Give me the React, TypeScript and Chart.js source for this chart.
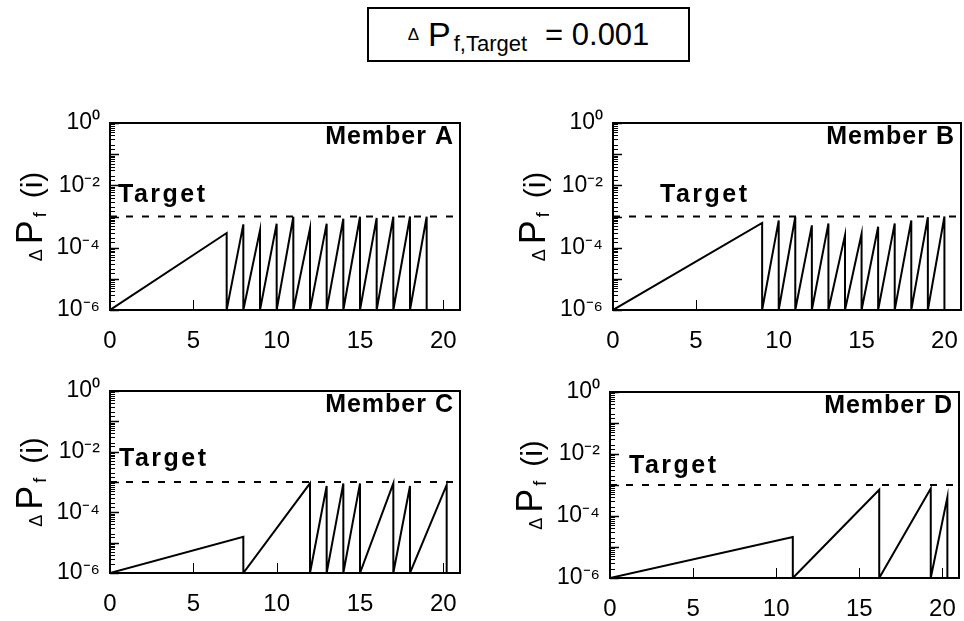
import React, { useEffect, useRef } from "react";
import { Chart, registerables } from "chart.js";

Chart.register(...registerables);

// ---- data ----
const FLOOR = 1e-6; // each tooth restarts at 10^-6
const TARGET = 1e-3; // ΔPf,Target
const X_MIN = 0;
const X_MAX = 21;
const X_TICKS = [0, 5, 10, 15, 20];
const Y_MIN = 1e-6;
const Y_MAX = 1;
const Y_LABEL_VALUES = [1, 1e-2, 1e-4, 1e-6];
const Y_LABEL_TEXT = ["10⁰", "10⁻²", "10⁻⁴", "10⁻⁶"];

// inspection (reset) times and the ΔPf reached just before each reset
const resetsA = [7, 8, 9, 10, 11, 12, 13, 14, 15, 16, 17, 18, 19];
const peaksA = [2.95e-4, 5.6e-4, 3.6e-4, 5.9e-4, 9.8e-4, 4.1e-4, 5.9e-4, 8.5e-4, 9.8e-4, 9.0e-4, 9.8e-4, 1.0e-3, 9.8e-4];

const resetsB = [9, 10, 11, 12, 13, 14, 15, 16, 17, 18, 19, 20];
const peaksB = [6.2e-4, 7.5e-4, 9.8e-4, 5.2e-4, 6.0e-4, 2.5e-4, 2.8e-4, 4.7e-4, 6.0e-4, 7.5e-4, 9.5e-4, 1.0e-3];

const resetsC = [8, 12, 13, 14, 15, 17, 18, 20.2];
const peaksC = [1.55e-5, 9.0e-4, 7.4e-4, 9.0e-4, 9.0e-4, 9.0e-4, 7.4e-4, 8.0e-4];

const resetsD = [11, 16.2, 19.3, 20.3];
const peaksD = [2.1e-5, 7.0e-4, 7.7e-4, 4.0e-4];

const members = ["Member A", "Member B", "Member C", "Member D"];

const FONT = '"Liberation Sans", Arial, Helvetica, sans-serif';

function sawtooth(resets: number[], peaks: number[]) {
  const pts: { x: number; y: number }[] = [{ x: X_MIN, y: FLOOR }];
  resets.forEach((t, i) => {
    pts.push({ x: t, y: peaks[i] });
    pts.push({ x: t, y: FLOOR });
  });
  return pts;
}

const panelDecor = {
  id: "panelDecor",
  afterDraw(chart: any, _args: any, opts: any) {
    const { ctx, chartArea: a, scales } = chart;
    const xs = scales.x;
    const ys = scales.y;
    ctx.save();
    ctx.strokeStyle = "#000";
    ctx.fillStyle = "#000";
    // y ticks, drawn inward
    ys.ticks.forEach((t: any) => {
      const e = Math.log10(t.value);
      const major = Math.abs(e - Math.round(e)) < 1e-6;
      const y = Math.round(ys.getPixelForValue(t.value)) + 0.5;
      ctx.lineWidth = major ? 1.5 : 1;
      ctx.beginPath();
      ctx.moveTo(a.left, y);
      ctx.lineTo(a.left + (major ? 9 : 5), y);
      ctx.stroke();
    });
    // x ticks, drawn inward
    X_TICKS.forEach((v) => {
      if (v === X_MIN) return;
      const x = Math.round(xs.getPixelForValue(v)) + 0.5;
      ctx.lineWidth = 1;
      ctx.beginPath();
      ctx.moveTo(x, a.bottom);
      ctx.lineTo(x, a.bottom - 10);
      ctx.stroke();
    });
    // frame
    ctx.lineWidth = 2;
    ctx.strokeRect(a.left, a.top, a.right - a.left, a.bottom - a.top);

    // member label
    ctx.font = `bold 25px ${FONT}`;
    (ctx as any).letterSpacing = "1px";
    ctx.textAlign = "right";
    ctx.textBaseline = "top";
    ctx.fillText(opts.member, a.right - 6, a.top + 2);

    // target label
    ctx.font = `bold 25px ${FONT}`;
    (ctx as any).letterSpacing = "2.5px";
    ctx.textAlign = "left";
    ctx.textBaseline = "middle";
    ctx.fillText("Target", a.left + opts.targetDx, ys.getPixelForValue(opts.targetY));
    (ctx as any).letterSpacing = "0px";

    // y axis title: ΔPf (i)
    const parts = [
      { t: "Δ", size: 18, dy: 0, gap: 0 },
      { t: "P", size: 36, dy: 0, gap: 5 },
      { t: "f", size: 18, dy: 4, gap: 3 },
      { t: "(i)", size: 30, dy: 0, gap: 14 },
    ];
    let total = 0;
    const widths = parts.map((p) => {
      ctx.font = `${p.size}px ${FONT}`;
      const w = ctx.measureText(p.t).width;
      total += w + p.gap;
      return w;
    });
    ctx.translate(a.left - opts.titleOffset, (a.top + a.bottom) / 2);
    ctx.rotate(-Math.PI / 2);
    ctx.textAlign = "left";
    ctx.textBaseline = "alphabetic";
    let cx = -total / 2;
    parts.forEach((p, i) => {
      cx += p.gap;
      ctx.font = `${p.size}px ${FONT}`;
      ctx.fillText(p.t, cx, p.dy);
      cx += widths[i];
    });
    ctx.restore();
  },
};

type PanelProps = {
  resets: number[];
  peaks: number[];
  member: string;
  left: number;
  top: number;
  width: number;
  height: number;
  targetDx: number;
  targetY: number;
};

const Y_AXIS_W = 110;
const X_AXIS_H = 50;
const PAD_TOP = 20;
const PAD_RIGHT = 4;

function Panel(p: PanelProps) {
  const ref = useRef<HTMLCanvasElement>(null);
  useEffect(() => {
    if (!ref.current) return;
    const chart = new Chart(ref.current, {
      type: "line",
      data: {
        datasets: [
          {
            data: sawtooth(p.resets, p.peaks),
            borderColor: "#000",
            borderWidth: 2,
            pointRadius: 0,
            tension: 0,
            fill: false,
          },
          {
            data: [
              { x: X_MIN, y: TARGET },
              { x: X_MAX, y: TARGET },
            ],
            borderColor: "#000",
            borderWidth: 2,
            borderDash: [7, 9],
            pointRadius: 0,
            fill: false,
          },
        ],
      },
      options: {
        animation: false,
        responsive: false,
        maintainAspectRatio: false,
        devicePixelRatio: 1,
        layout: { padding: { top: PAD_TOP, right: PAD_RIGHT, left: 0, bottom: 0 } },
        plugins: {
          legend: { display: false },
          tooltip: { enabled: false },
          panelDecor: { member: p.member, targetDx: p.targetDx, targetY: p.targetY, titleOffset: 68 },
        } as any,
        scales: {
          x: {
            type: "linear",
            min: X_MIN,
            max: X_MAX,
            afterFit: (s: any) => {
              s.height = X_AXIS_H;
            },
            grid: {
              display: true,
              drawOnChartArea: false,
              drawTicks: true,
              tickLength: 15,
              tickColor: "rgba(0,0,0,0)",
              color: "rgba(0,0,0,0)",
            },
            border: { display: false },
            ticks: {
              stepSize: 5,
              includeBounds: false,
              autoSkip: false,
              maxRotation: 0,
              padding: 2,
              color: "#000",
              font: { family: FONT, size: 24 },
              callback: (v: any) => (X_TICKS.includes(Number(v)) ? String(v) : ""),
            },
          },
          y: {
            type: "logarithmic",
            min: Y_MIN,
            max: Y_MAX,
            afterFit: (s: any) => {
              s.width = Y_AXIS_W;
            },
            grid: {
              display: true,
              drawOnChartArea: false,
              drawTicks: true,
              tickLength: 8,
              tickColor: "rgba(0,0,0,0)",
              color: "rgba(0,0,0,0)",
            },
            border: { display: false },
            ticks: {
              autoSkip: false,
              padding: 2,
              color: "#000",
              font: { family: FONT, size: 23 },
              callback: (v: any) => {
                const idx = Y_LABEL_VALUES.findIndex((y) => Math.abs(Math.log10(Number(v)) - Math.log10(y)) < 1e-6);
                return idx >= 0 ? Y_LABEL_TEXT[idx] : "";
              },
            },
          },
        },
      },
      plugins: [panelDecor as any],
    });
    return () => chart.destroy();
  }, []);
  return (
    <canvas
      ref={ref}
      width={p.width}
      height={p.height}
      style={{ position: "absolute", left: p.left, top: p.top, width: p.width, height: p.height }}
    />
  );
}

// chart-area rectangles (left, top, right, bottom) of the four panels
function place(l: number, t: number, r: number, b: number) {
  const left = l - Y_AXIS_W;
  const top = t - PAD_TOP;
  return { left, top, width: r - left + PAD_RIGHT, height: b - top + X_AXIS_H };
}

export default function App() {
  const pA = place(110, 123, 460, 310);
  const pB = place(613, 123, 961, 310);
  const pC = place(110, 391, 460, 573);
  const pD = place(610, 392, 959, 578);
  return (
    <div style={{ position: "fixed", left: 0, top: 0, width: 964, height: 621, background: "#fff", overflow: "hidden" }}>
      <div
        style={{
          position: "absolute",
          left: 367,
          top: 7,
          width: 323,
          height: 55,
          boxSizing: "border-box",
          border: "2px solid #000",
          display: "flex",
          alignItems: "center",
          justifyContent: "center",
          fontFamily: FONT,
          color: "#000",
          whiteSpace: "nowrap",
        }}
      >
        <span style={{ fontSize: 17, marginRight: 9 }}>Δ</span>
        <span style={{ fontSize: 34 }}>P</span>
        <span style={{ fontSize: 22, position: "relative", top: 9, marginLeft: 3 }}>f,Target</span>
        <span style={{ fontSize: 31, marginLeft: 18 }}>= 0.001</span>
      </div>
      <Panel resets={resetsA} peaks={peaksA} member={members[0]} {...pA} targetDx={8} targetY={5e-3} />
      <Panel resets={resetsB} peaks={peaksB} member={members[1]} {...pB} targetDx={47} targetY={5e-3} />
      <Panel resets={resetsC} peaks={peaksC} member={members[2]} {...pC} targetDx={9} targetY={5.5e-3} />
      <Panel resets={resetsD} peaks={peaksD} member={members[3]} {...pD} targetDx={19} targetY={4.2e-3} />
    </div>
  );
}
